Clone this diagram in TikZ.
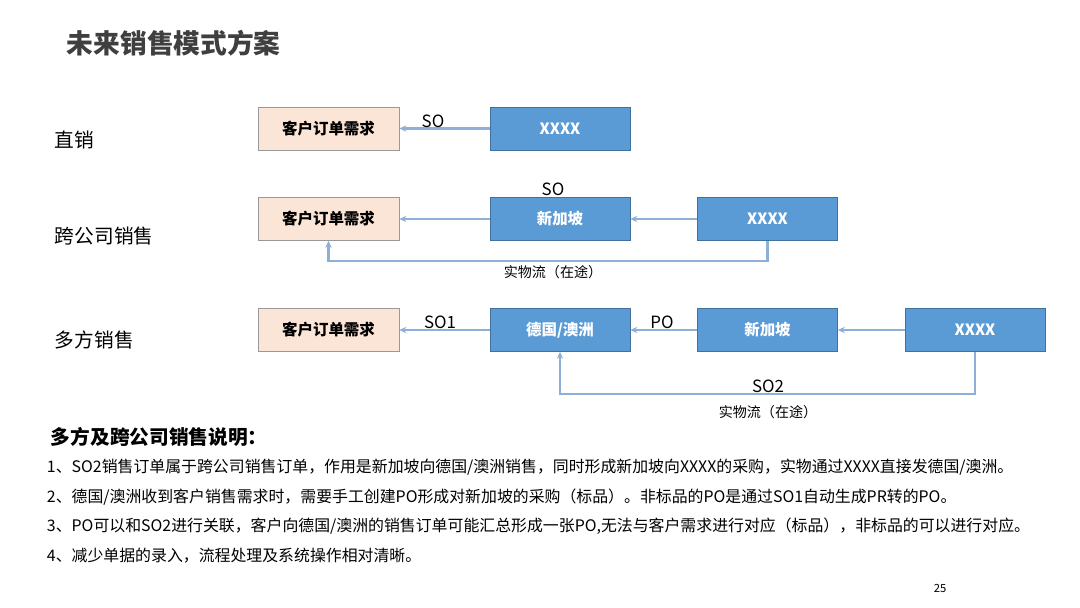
\documentclass[tikz,border=0pt]{standalone}
\usepackage{fontspec}
\setmainfont{Noto Sans CJK SC}
\usetikzlibrary{arrows.meta}

\definecolor{boxblue}{HTML}{5B9BD5}
\definecolor{boxblueline}{HTML}{41719C}
\definecolor{boxpink}{HTML}{FBE5D6}
\definecolor{arrline}{HTML}{8EB0D8}
\definecolor{titlegray}{HTML}{3F3F3F}

\begin{document}
\begin{tikzpicture}[
  x=0.025cm,
  y=-0.025cm,
  need/.style={
    rectangle,
    draw=gray!80,
    fill=boxpink,
    minimum width=3.525cm,
    minimum height=1.075cm,
    font=\fontsize{11}{12}\selectfont\bfseries,
    align=center
  },
  ent/.style={
    rectangle,
    draw=boxblueline,
    fill=boxblue,
    text=white,
    minimum width=3.5cm,
    minimum height=1.075cm,
    font=\fontsize{11}{12}\selectfont\bfseries,
    align=center
  },
  arr/.style={
    -{Stealth[length=5pt,width=4.5pt]},
    draw=arrline,
    line width=1.6pt
  },
  row/.style={
    font=\fontsize{14}{16}\selectfont,
    anchor=west
  },
  doc/.style={
    font=\fontsize{12}{14}\selectfont
  },
  flow/.style={
    font=\fontsize{10}{12}\selectfont
  },
  note/.style={
    font=\fontsize{11.3}{13}\selectfont,
    anchor=west
  }
]

\useasboundingbox (0,0) rectangle (1080,607);

% =========================================================
% TITULO
% =========================================================

\node[
  font=\fontsize{19}{21}\selectfont\bfseries,
  text=titlegray,
  anchor=west
] (title) at (62,43) {未来销售模式方案};

% =========================================================
% FILAS
% =========================================================

\node[row] (lbl1) at (50,140) {直销};
\node[row] (lbl2) at (50,236) {跨公司销售};
\node[row] (lbl3) at (50,340) {多方销售};

% --- 直销 ---

\node[need] (cust1) at (328.5,128.5) {客户订单需求};
\node[ent] (src1) at (560,128.5) {XXXX};

% --- 跨公司销售 ---

\node[need] (cust2) at (328.5,219) {客户订单需求};
\node[ent] (sg2) at (560,219) {新加坡};
\node[ent] (src2) at (767.5,219) {XXXX};

% --- 多方销售 ---

\node[need] (cust3) at (328.5,330) {客户订单需求};
\node[ent] (de3) at (560,330) {德国/澳洲};
\node[ent] (sg3) at (767.5,330) {新加坡};
\node[ent] (src3) at (975,330) {XXXX};

% =========================================================
% FLECHAS
% =========================================================

\draw[arr] (src1) -- (cust1);
\node[doc] (so1) at (433,121) {SO};

\draw[arr] (sg2) -- (cust2);
\draw[arr] (src2) -- (sg2);
\node[doc] (so2) at (553,189) {SO};

\coordinate (bend2) at (767.5,261);
\draw[arr] (src2.south) -- (bend2) -| (cust2.south);
\node[flow] (phys2) at (553,272) {实物流（在途）};

\draw[arr] (de3) -- (cust3);
\draw[arr] (sg3) -- (de3);
\draw[arr] (src3) -- (sg3);
\node[doc] (so3) at (440,322) {SO1};
\node[doc] (po3) at (662,322) {PO};

\coordinate (bend3) at (975,394);
\draw[arr] (src3.south) -- (bend3) -| (de3.south);
\node[doc] (so23) at (768,386) {SO2};
\node[flow] (phys3) at (768,412) {实物流（在途）};

% =========================================================
% NOTAS
% =========================================================

\node[
  font=\fontsize{14}{16}\selectfont\bfseries,
  anchor=west
] (head) at (46,437) {多方及跨公司销售说明：};

\node[note] (n1) at (42,467)
  {1、SO2销售订单属于跨公司销售订单，作用是新加坡向德国/澳洲销售，同时形成新加坡向XXXX的采购，实物通过XXXX直接发德国/澳洲。};
\node[note] (n2) at (42,497)
  {2、德国/澳洲收到客户销售需求时，需要手工创建PO形成对新加坡的采购（标品）。非标品的PO是通过SO1自动生成PR转的PO。};
\node[note] (n3) at (42,526)
  {3、PO可以和SO2进行关联，客户向德国/澳洲的销售订单可能汇总形成一张PO,无法与客户需求进行对应（标品），非标品的可以进行对应。};
\node[note] (n4) at (42,556)
  {4、减少单据的录入，流程处理及系统操作相对清晰。};

\node[font=\fontsize{8}{10}\selectfont] (page) at (940,588) {25};

\end{tikzpicture}
\end{document}
